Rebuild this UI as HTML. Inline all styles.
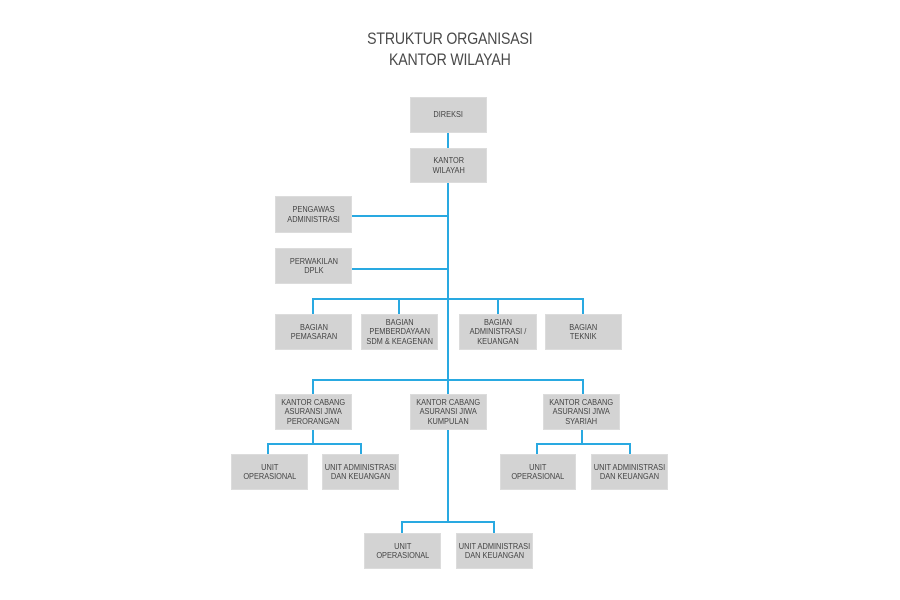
<!DOCTYPE html>
<html><head><meta charset="utf-8"><style>
body{margin:0;width:900px;height:600px;background:#fff;position:relative;overflow:hidden;font-family:"Liberation Sans",sans-serif}
.t{position:absolute;left:0;width:900px;text-align:center;color:#4a4a4a;font-size:17px;transform:scaleX(0.83);transform-origin:449px 0;letter-spacing:-0.2px}
.b{position:absolute;background:#d3d3d3;box-shadow:inset 0 0 0 1px #dcdcdc;display:flex;align-items:center;justify-content:center;text-align:center}
.b span{display:block;font-size:8.6px;line-height:9.3px;color:#444;transform:scaleX(0.86);white-space:nowrap}
svg{position:absolute;left:0;top:0}
</style></head><body>
<div class="t" style="top:29px">STRUKTUR ORGANISASI</div>
<div class="t" style="top:50px">KANTOR WILAYAH</div>
<svg width="900" height="600"><g stroke="#29a9e1" stroke-width="2" fill="none">
<line x1="448" y1="133" x2="448" y2="148"/>
<line x1="448" y1="183" x2="448" y2="522"/>
<line x1="352" y1="216" x2="448" y2="216"/>
<line x1="352" y1="269" x2="448" y2="269"/>
<polyline points="313,314 313,299 583,299 583,314"/>
<line x1="399" y1="299" x2="399" y2="314"/>
<line x1="498" y1="299" x2="498" y2="314"/>
<polyline points="313,394 313,380 583,380 583,394"/>
<line x1="313" y1="430" x2="313" y2="444"/>
<polyline points="268,454 268,444 361,444 361,454"/>
<line x1="582" y1="430" x2="582" y2="444"/>
<polyline points="537,454 537,444 630,444 630,454"/>
<polyline points="402,533 402,522 494,522 494,533"/>
</g></svg>
<div class="b" style="left:410px;top:97px;width:77px;height:36px"><span>DIREKSI</span></div>
<div class="b" style="left:410px;top:148px;width:77px;height:35px"><span>KANTOR<br>WILAYAH</span></div>
<div class="b" style="left:275px;top:196px;width:77px;height:37px"><span>PENGAWAS<br>ADMINISTRASI</span></div>
<div class="b" style="left:275px;top:248px;width:77px;height:36px"><span>PERWAKILAN<br>DPLK</span></div>
<div class="b" style="left:275px;top:314px;width:77px;height:36px"><span>BAGIAN<br>PEMASARAN</span></div>
<div class="b" style="left:361px;top:314px;width:77px;height:36px"><span>BAGIAN<br>PEMBERDAYAAN<br>SDM &amp; KEAGENAN</span></div>
<div class="b" style="left:459px;top:314px;width:78px;height:36px"><span>BAGIAN<br>ADMINISTRASI /<br>KEUANGAN</span></div>
<div class="b" style="left:545px;top:314px;width:77px;height:36px"><span>BAGIAN<br>TEKNIK</span></div>
<div class="b" style="left:275px;top:394px;width:77px;height:36px"><span>KANTOR CABANG<br>ASURANSI JIWA<br>PERORANGAN</span></div>
<div class="b" style="left:410px;top:394px;width:77px;height:36px"><span>KANTOR CABANG<br>ASURANSI JIWA<br>KUMPULAN</span></div>
<div class="b" style="left:543px;top:394px;width:77px;height:36px"><span>KANTOR CABANG<br>ASURANSI JIWA<br>SYARIAH</span></div>
<div class="b" style="left:231px;top:454px;width:77px;height:36px"><span>UNIT<br>OPERASIONAL</span></div>
<div class="b" style="left:322px;top:454px;width:77px;height:36px"><span>UNIT ADMINISTRASI<br>DAN KEUANGAN</span></div>
<div class="b" style="left:500px;top:454px;width:76px;height:36px"><span>UNIT<br>OPERASIONAL</span></div>
<div class="b" style="left:591px;top:454px;width:77px;height:36px"><span>UNIT ADMINISTRASI<br>DAN KEUANGAN</span></div>
<div class="b" style="left:364px;top:533px;width:77px;height:36px"><span>UNIT<br>OPERASIONAL</span></div>
<div class="b" style="left:456px;top:533px;width:77px;height:36px"><span>UNIT ADMINISTRASI<br>DAN KEUANGAN</span></div>
</body></html>
